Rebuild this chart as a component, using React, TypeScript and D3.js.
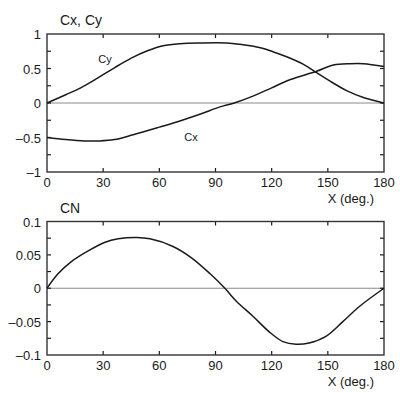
import React from 'react';
import * as d3 from 'd3';

// Top panel: Cx, Cy vs X (deg.)
const cyDeg = [0, 10, 18, 27, 36, 45, 54, 62, 71, 82, 96, 103, 114, 121, 128, 137, 144, 151, 160, 169, 180];
const cyVal = [0, 0.12, 0.22, 0.36, 0.51, 0.65, 0.76, 0.83, 0.86, 0.87, 0.87, 0.85, 0.8, 0.74, 0.67, 0.56, 0.44, 0.32, 0.18, 0.08, 0];

const cxDeg = [0, 10, 20, 28, 36, 46, 60, 71, 82, 92, 100, 110, 120, 130, 144, 153, 162, 169, 180];
const cxVal = [-0.5, -0.53, -0.55, -0.55, -0.53, -0.46, -0.35, -0.26, -0.16, -0.06, 0, 0.1, 0.22, 0.34, 0.46, 0.55, 0.57, 0.57, 0.53];

// Bottom panel: CN vs X (deg.)
const cnDeg = [0, 6, 13, 22, 31, 38, 48, 55, 67, 77, 87, 95, 101, 110, 119, 126, 133, 140, 149, 158, 167, 180];
const cnVal = [0, 0.022, 0.04, 0.056, 0.069, 0.074, 0.076, 0.074, 0.063, 0.046, 0.022, 0, -0.019, -0.042, -0.066, -0.08, -0.084, -0.082, -0.072, -0.05, -0.027, 0];

const xTicks = [0, 30, 60, 90, 120, 150, 180];
const topYTicks = [-1, -0.5, 0, 0.5, 1];
const topYMinor = [-0.75, -0.25, 0.25, 0.75];
const botYTicks = [-0.1, -0.05, 0, 0.05, 0.1];
const botYMinor = [-0.075, -0.025, 0.025, 0.075];

const font = 'Arial, "Liberation Sans", Helvetica, sans-serif';
const ink = '#1a1a1a';

const fmt = (v: number) => {
  const s = String(Math.abs(v));
  return v < 0 ? '\u2013' + s : s;
};

type Pt = [number, number];

interface PanelProps {
  top: number;
  bottom: number;
  yDomain: [number, number];
  yTicks: number[];
  yMinor: number[];
  title: string;
  series: Pt[][];
  labels: { text: string; x: number; y: number }[];
}

const LEFT = 47;
const RIGHT = 384;

const Panel: React.FC<PanelProps> = ({ top, bottom, yDomain, yTicks, yMinor, title, series, labels }) => {
  const x = d3.scaleLinear().domain([0, 180]).range([LEFT, RIGHT]);
  const y = d3.scaleLinear().domain(yDomain).range([bottom, top]);
  const line = d3
    .line<Pt>()
    .x(d => x(d[0]))
    .y(d => y(d[1]))
    .curve(d3.curveCatmullRom.alpha(0.5));
  const tl = 4;
  const allY = [...yTicks, ...yMinor].filter(v => v !== yDomain[0] && v !== yDomain[1]);

  return (
    <g>
      <text x={60} y={top - 9} fontSize={14} fontFamily={font} fill={ink}>
        {title}
      </text>

      {/* zero line */}
      <line x1={x(0)} x2={x(180)} y1={y(0)} y2={y(0)} stroke="#8a8a8a" strokeWidth={1} />

      {/* tick marks, inside on all sides */}
      {xTicks.slice(1, -1).map(t => (
        <g key={'xt' + t}>
          <line x1={x(t)} x2={x(t)} y1={top} y2={top + tl} stroke={ink} strokeWidth={1.2} />
          <line x1={x(t)} x2={x(t)} y1={bottom} y2={bottom - tl} stroke={ink} strokeWidth={1.2} />
        </g>
      ))}
      {allY.map(t => (
        <g key={'yt' + t}>
          <line x1={LEFT} x2={LEFT + tl} y1={y(t)} y2={y(t)} stroke={ink} strokeWidth={1.2} />
          <line x1={RIGHT} x2={RIGHT - tl} y1={y(t)} y2={y(t)} stroke={ink} strokeWidth={1.2} />
        </g>
      ))}

      {/* frame */}
      <rect x={LEFT} y={top} width={RIGHT - LEFT} height={bottom - top} fill="none" stroke="#333" strokeWidth={1.4} />

      {/* y tick labels */}
      {yTicks.map(t => (
        <text key={'yl' + t} x={LEFT - 6} y={y(t) + 5} textAnchor="end" fontSize={13} fontFamily={font} fill={ink}>
          {fmt(t)}
        </text>
      ))}

      {/* x tick labels */}
      {xTicks.map(t => (
        <text key={'xl' + t} x={x(t)} y={bottom + 15} textAnchor="middle" fontSize={13} fontFamily={font} fill={ink}>
          {t}
        </text>
      ))}
      <text x={374} y={bottom + 31} textAnchor="end" fontSize={13} fontFamily={font} fill={ink}>
        X (deg.)
      </text>

      {series.map((s, i) => (
        <path key={'s' + i} d={line(s) || ''} fill="none" stroke={ink} strokeWidth={1.5} />
      ))}

      {labels.map(l => (
        <text key={l.text} x={l.x} y={l.y} textAnchor="middle" fontSize={11} fontFamily={font} fill={ink}>
          {l.text}
        </text>
      ))}
    </g>
  );
};

const zip = (a: number[], b: number[]): Pt[] => a.map((d, i) => [d, b[i]]);

export default function App() {
  return (
    <div style={{ position: 'fixed', left: 0, top: 0 }}>
      <svg width={400} height={393} style={{ display: 'block', background: '#fff' }}>
        <Panel
          top={34}
          bottom={172}
          yDomain={[-1, 1]}
          yTicks={topYTicks}
          yMinor={topYMinor}
          title="Cx, Cy"
          series={[zip(cyDeg, cyVal), zip(cxDeg, cxVal)]}
          labels={[
            { text: 'Cy', x: 105, y: 63 },
            { text: 'Cx', x: 191, y: 141 },
          ]}
        />
        <Panel
          top={221.5}
          bottom={355}
          yDomain={[-0.1, 0.1]}
          yTicks={botYTicks}
          yMinor={botYMinor}
          title="CN"
          series={[zip(cnDeg, cnVal)]}
          labels={[]}
        />
      </svg>
    </div>
  );
}
